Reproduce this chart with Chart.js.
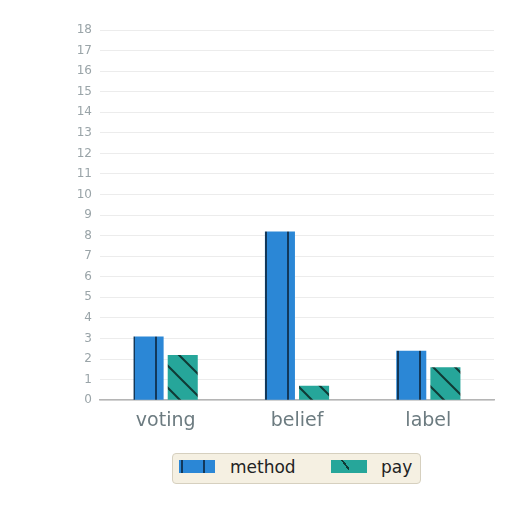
<!DOCTYPE html>
<html>
<head>
<meta charset="utf-8">
<script src="https://cdn.jsdelivr.net/npm/chart.js@4"></script>
<style>
  html, body { margin: 0; padding: 0; background: #ffffff; }
  #wrap { width: 512px; height: 512px; position: relative; font-family: "DejaVu Sans", sans-serif; }
  #legend {
    position: absolute; left: 172px; top: 453px; width: 247px; height: 29px;
    background: #f5f0e2; border: 1px solid #d6d0bf; border-radius: 4px;
  }
  .sw { position: absolute; top: 6px; width: 36px; height: 13px; }
  .lab { position: absolute; top: 3px; font-size: 17px; line-height: 20px; color: #222222; }
</style>
</head>
<body>
<div id="wrap">
  <canvas id="chart" width="512" height="512"></canvas>
  <div id="legend"></div>
</div>
<script>
// Chart data
const categories = ["voting", "belief", "label"]
const methodValues = [3.1, 8.2, 2.4]
const payValues = [2.2, 0.7, 1.6]
const seriesNames = ["method", "pay"]

const blue = "#2b87d6"
const teal = "#26a69a"

// hatch fill for the bars
function makePattern(color, lineColor, kind) {
  const c = document.createElement("canvas")
  c.width = 22
  c.height = 22
  const g = c.getContext("2d")
  g.fillStyle = color
  g.fillRect(0, 0, 22, 22)
  g.strokeStyle = lineColor
  g.lineWidth = 2
  g.beginPath()
  if (kind === "vertical") {
    g.moveTo(2, 0)
    g.lineTo(2, 22)
  } else {
    g.moveTo(0, 0)
    g.lineTo(22, 22)
    g.moveTo(-11, 11)
    g.lineTo(11, 33)
    g.moveTo(11, -11)
    g.lineTo(33, 11)
  }
  g.stroke()
  return g.createPattern(c, "repeat")
}

const ctx = document.getElementById("chart")
const chart = new Chart(ctx, {
  type: "bar",
  data: {
    labels: categories,
    datasets: [
      {
        label: seriesNames[0],
        data: methodValues,
        backgroundColor: makePattern(blue, "#12385a", "vertical"),
        borderWidth: 0,
        categoryPercentage: 0.52,
        barPercentage: 0.88,
      },
      {
        label: seriesNames[1],
        data: payValues,
        backgroundColor: makePattern(teal, "#103a35", "diag"),
        borderWidth: 0,
        categoryPercentage: 0.52,
        barPercentage: 0.88,
      },
    ],
  },
  options: {
    responsive: false,
    animation: false,
    devicePixelRatio: 1,
    layout: { padding: { left: 10, right: 18, top: 30, bottom: 76 } },
    plugins: {
      tooltip: { enabled: false },
      legend: { display: false },
    },
    scales: {
      x: {
        grid: { display: false, drawTicks: true, tickLength: 5, tickColor: "#9a9a9a" },
        border: { color: "#b5b5b5", width: 1.5 },
        ticks: { color: "#6c7b80", font: { family: "DejaVu Sans", size: 19 }, padding: 4 },
      },
      y: {
        beginAtZero: true,
        max: 18,
        afterFit(scale) { scale.width = 90 },
        grid: { color: "#ececec", drawTicks: false },
        border: { display: false },
        ticks: { stepSize: 1, color: "#9aa4a8", font: { family: "DejaVu Sans", size: 12 }, padding: 8 },
      },
    },
  },
})

// Legend built from the datasets
const swatchCss = [
  "background: linear-gradient(90deg, transparent 2px, #12385a 2px, #12385a 4px, transparent 4px, transparent 24px, #12385a 24px, #12385a 26px, transparent 26px), " + blue,
  "background: linear-gradient(52deg, transparent 0 70%, #103a35 70% 78%, transparent 78%) no-repeat 0 0 / 18px 100%, " + teal,
]
const legendPos = [[6, 57], [158, 208]]
const legendEl = document.getElementById("legend")
chart.data.datasets.forEach((ds, i) => {
  const sw = document.createElement("div")
  sw.className = "sw"
  sw.style.cssText = swatchCss[i]
  sw.style.left = legendPos[i][0] + "px"
  legendEl.appendChild(sw)
  const t = document.createElement("div")
  t.className = "lab"
  t.style.left = legendPos[i][1] + "px"
  t.textContent = ds.label
  legendEl.appendChild(t)
})
</script>
</body>
</html>
